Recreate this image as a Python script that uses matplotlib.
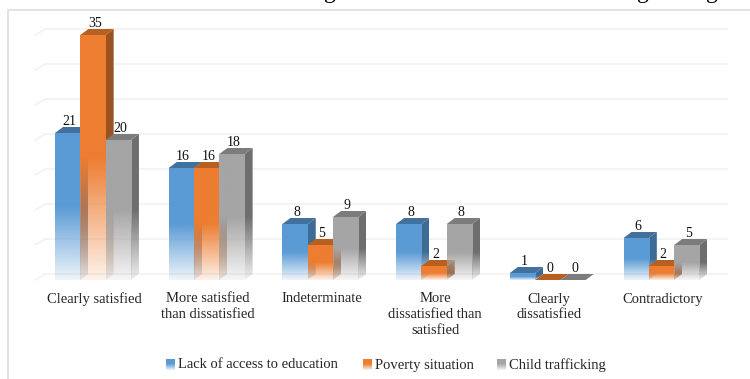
import matplotlib.pyplot as plt
import numpy as np
from matplotlib.colors import to_rgb
from matplotlib.lines import Line2D
from matplotlib.patches import Polygon

plt.rcParams['font.family'] = ['Liberation Serif', 'DejaVu Serif']

categories = ["Clearly satisfied", "More satisfied\nthan dissatisfied", "Indeterminate",
              "More\ndissatisfied than\nsatisfied", "Clearly\ndissatisfied", "Contradictory"]
education = [21, 16, 8, 8, 1, 6]
poverty = [35, 16, 5, 2, 0, 2]
trafficking = [20, 18, 9, 8, 0, 5]
series_names = ["Lack of access to education", "Poverty situation", "Child trafficking"]
grid_values = [0, 5, 10, 15, 20, 25, 30, 35]

front_colors = ['#5B9BD5', '#ED7D31', '#A5A5A5']
side_colors = ['#3E6C96', '#9C5220', '#6E6E6E']
top_colors = ['#41719C', '#B8601F', '#7C7C7C']

W, H = 750, 379
fig = plt.figure(figsize=(W / 100, H / 100), dpi=100)


def px_rect(x0, y0, x1, y1):
    # pixel box (y downwards) to figure fractions
    return [x0 / W, 1 - y1 / H, (x1 - x0) / W, (y1 - y0) / H]


ax = fig.add_axes(px_rect(35, 28, 728, 280))
ax.set_xlim(-0.51, 5.585)
ax.set_ylim(0, 36)
for s in ax.spines.values():
    s.set_visible(False)

# px to data units for the fake 3d depth
depth_x = 8 / 113.7
depth_y = 6 / 7.0
wall_x = 10.5 / 113.7
bar_w = 0.2225


def fade(color, y0, y_top, fade_top, extent_x, clip, z):
    # vertical gradient: solid above fade_top, almost transparent at the base
    ys = np.linspace(y0, y_top, 256)
    alpha = np.clip(0.1 + 0.9 * (ys - y0) / max(fade_top - y0, 1e-6), 0, 1)
    img = np.ones((256, 1, 4))
    img[:, 0, :3] = to_rgb(color)
    img[:, 0, 3] = alpha
    im = ax.imshow(img, origin='lower', aspect='auto', interpolation='bilinear',
                   extent=(extent_x[0], extent_x[1], y0, y_top), zorder=z)
    im.set_clip_path(clip)


# back wall gridlines with the short slanted piece on the left
for v in grid_values:
    ax.plot([-0.51, -0.51 + wall_x], [v, v + depth_y], color='#f2f2f2', lw=1.2, zorder=0, clip_on=False)
    ax.plot([-0.51 + wall_x, 5.585], [v + depth_y, v + depth_y], color='#f2f2f2', lw=1.2, zorder=0)

z = 2
x = np.arange(len(categories))
for i, values in enumerate([education, poverty, trafficking]):
    for cx, v in zip(x, values):
        left = cx + (i - 1.5) * bar_w
        right = left + bar_w

        side = Polygon([(right, 0), (right + depth_x, depth_y), (right + depth_x, v + depth_y), (right, v)],
                       fc='none', ec='none')
        ax.add_patch(side)
        if v > 0:
            fade(side_colors[i], 0, v + depth_y, v / 2, (right, right + depth_x), side, z)
        z += 1

        ax.add_patch(Polygon([(left, v), (left + depth_x, v + depth_y), (right + depth_x, v + depth_y), (right, v)],
                             fc=top_colors[i], ec='none', zorder=z))
        z += 1

        bar = ax.bar(left, v, width=bar_w, align='edge', color='none')[0]
        if v > 0:
            fade(front_colors[i], 0, v, v / 2, (left, right), bar, z)
        z += 1

        ax.annotate(str(v), (left + bar_w / 2, v + depth_y), xytext=(1.2, -1), textcoords='offset points',
                    ha='center', va='bottom', fontsize=10, color='#111111', zorder=500,
                    annotation_clip=False)

ax.set_xlim(-0.51, 5.585)
ax.set_ylim(0, 36)
ax.set_yticks([])
ax.set_xticks(x + 0.01, categories, fontsize=10.5, color='#262626', linespacing=1.3)
ax.tick_params(axis='x', length=0, pad=9)

# chart frame, only left and top show
fig.add_artist(Line2D([8 / W, 8 / W], [0, 1 - 10 / H], color='#e3e3e3', lw=1.4))
fig.add_artist(Line2D([8 / W, 1], [1 - 10 / H, 1 - 10 / H], color='#e3e3e3', lw=1.4))

# legend drawn by hand because the keys carry the same gradient
key_x = [166, 363, 497]
text_x = [178, 375, 509]
for i in range(3):
    kx = fig.add_axes(px_rect(key_x[i], 359, key_x[i] + 9, 370))
    img = np.ones((64, 1, 4))
    img[:, 0, :3] = to_rgb(front_colors[i])
    img[:, 0, 3] = np.clip(np.linspace(1.7, 0.1, 64), 0, 1)
    kx.imshow(img, aspect='auto', interpolation='bilinear')
    kx.axis('off')
    fig.text(text_x[i] / W, 1 - 365 / H, series_names[i], fontsize=10.5, color='#262626', va='center')

# tails of the heading running off the top edge
for gx in [330, 643, 712]:
    fig.text(gx / W, 1 + 2 / H, "g", fontsize=17, color='black', ha='center', va='baseline')

plt.savefig("out.png", dpi=100)
